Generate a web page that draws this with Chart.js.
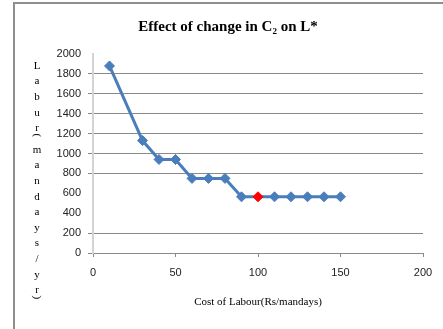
<!DOCTYPE html>
<html>
<head>
<meta charset="utf-8">
<script src="https://cdn.jsdelivr.net/npm/chart.js@4"></script>
<style>
  html, body { margin: 0; padding: 0; background: #fff; overflow: hidden; }
</style>
</head>
<body>
<canvas id="chart" width="443" height="329"></canvas>
<script>
// data
const costOfLabour = [10, 30, 40, 50, 60, 70, 80, 90, 100, 110, 120, 130, 140, 150];
const labourMandays = [1880, 1130, 940, 940, 750, 750, 750, 565, 565, 565, 565, 565, 565, 565];
const highlightCost = 100;
const xTicks = [0, 50, 100, 150, 200];
const yTicks = [0, 200, 400, 600, 800, 1000, 1200, 1400, 1600, 1800, 2000];
const noGridAt = [400, 600, 2000];   // these gridlines are missing in the original

const chartTitle = "Effect of change in C₂ on L*";
const xTitle = "Cost of Labour(Rs/mandays)";
const yTitleChars = ["L", "a", "b", "u", "r", "(", "m", "a", "n", "d", "a", "y", "s", "/", "y", "r", ")"];

const BLUE = "#4a7ebb";
const GRID = "#8a8a8a";

const pointColors = costOfLabour.map(x => x === highlightCost ? "#ff0000" : BLUE);

// outer frame (only left + top edge are inside the picture)
const framePlugin = {
    id: "frame",
    beforeDraw(chart) {
        const ctx = chart.ctx;
        ctx.save();
        ctx.strokeStyle = "#8e8e8e";
        ctx.lineWidth = 2;
        ctx.beginPath();
        ctx.moveTo(14, chart.height + 5);
        ctx.lineTo(14, 3);
        ctx.lineTo(chart.width + 5, 3);
        ctx.stroke();
        ctx.restore();
    }
};

// title + stacked y-axis title
const textPlugin = {
    id: "texts",
    afterDraw(chart) {
        const ctx = chart.ctx;
        ctx.save();
        ctx.fillStyle = "#000";
        ctx.textAlign = "center";
        ctx.textBaseline = "middle";
        ctx.font = "bold 15px 'Liberation Serif'";
        ctx.fillText(chartTitle, 228, 27);

        ctx.font = "11px 'Liberation Serif'";
        let y = 66;
        let lastY = y;
        yTitleChars.forEach(ch => {
            if (ch === "(" || ch === ")") {
                ctx.save();
                ctx.translate(37, lastY + 7);
                ctx.rotate(Math.PI / 2);
                ctx.fillText(ch, 0, 0);
                ctx.restore();
                y += 6;
                return;
            }
            ctx.fillText(ch, 37, y);
            lastY = y;
            y += 15.6;
        });
        ctx.restore();
    }
};

new Chart(document.getElementById("chart"), {
    type: "line",
    data: {
        datasets: [{
            data: costOfLabour.map((x, i) => ({ x: x, y: labourMandays[i] })),
            borderColor: BLUE,
            borderWidth: 3,
            backgroundColor: pointColors,
            pointBackgroundColor: pointColors,
            pointBorderColor: pointColors,
            pointBorderWidth: 1,
            pointStyle: "rectRot",
            pointRadius: 5,
            tension: 0,
            fill: false
        }]
    },
    options: {
        responsive: false,
        animation: false,
        layout: { padding: { left: 0, right: 20, top: 54, bottom: 0 } },
        plugins: {
            legend: { display: false },
            tooltip: { enabled: false },
            title: { display: false }
        },
        scales: {
            x: {
                type: "linear",
                min: 0,
                max: 200,
                afterBuildTicks: s => { s.ticks = xTicks.map(v => ({ value: v })); },
                afterFit: s => { s.height = 76; },
                grid: { drawOnChartArea: false, color: GRID, tickLength: 4 },
                border: { color: GRID, width: 1 },
                ticks: {
                    padding: 9, color: "#222",
                    font: { family: "'Liberation Sans'", size: 11 },
                    callback: v => String(v)
                },
                title: {
                    display: true,
                    text: xTitle,
                    color: "#000",
                    font: { family: "'Liberation Serif'", size: 11 },
                    padding: { top: 0, bottom: 20 }
                }
            },
            y: {
                min: 0,
                max: 2000,
                afterBuildTicks: s => { s.ticks = yTicks.map(v => ({ value: v })); },
                afterFit: s => { s.width = 93; },
                grid: {
                    color: c => noGridAt.includes(c.tick.value) ? "rgba(0,0,0,0)" : GRID,
                    tickLength: 5
                },
                border: { color: "#d4d4d4", width: 2 },
                ticks: {
                    padding: 7, color: "#222",
                    font: { family: "'Liberation Sans'", size: 11 },
                    callback: v => String(v)
                }
            }
        }
    },
    plugins: [framePlugin, textPlugin]
});
</script>
</body>
</html>
